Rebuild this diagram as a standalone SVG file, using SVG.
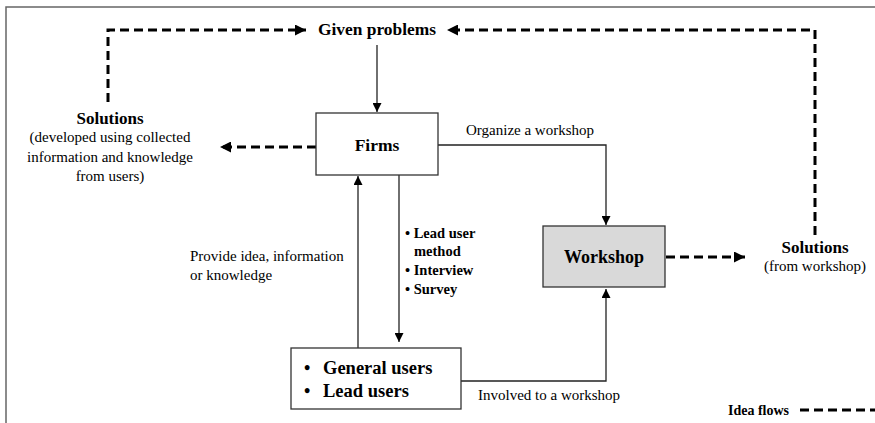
<svg xmlns="http://www.w3.org/2000/svg" width="875" height="423" viewBox="0 0 875 423">
<defs>
<marker id="ah" viewBox="0 0 10 10" refX="10" refY="5" markerWidth="9" markerHeight="9" markerUnits="userSpaceOnUse" orient="auto"><path d="M0,0 L10,5 L0,10 z" fill="#000"/></marker>
<marker id="ahd" viewBox="0 0 10 10" refX="10" refY="5" markerWidth="11" markerHeight="11" markerUnits="userSpaceOnUse" orient="auto"><path d="M0,0 L10,5 L0,10 z" fill="#000"/></marker>
</defs>
<style>
.t{font-family:"Liberation Serif","Times New Roman",serif;fill:#000}
.b{font-weight:bold}
.box{fill:#fff;stroke:#333;stroke-width:1.3}
.ln{fill:none;stroke:#222;stroke-width:1.3}
.dash{fill:none;stroke:#000;stroke-width:3;stroke-dasharray:9,5}
</style>
<rect width="875" height="423" fill="#fff"/>
<path d="M6,423 V7 H875" fill="none" stroke="#666" stroke-width="1.5"/>
<g id="connectors">
<path class="ln" d="M377,45 V112" marker-end="url(#ah)"/>
<path class="ln" d="M438,145 H606 V225" marker-end="url(#ah)"/>
<path class="ln" d="M358,348 V176" marker-end="url(#ah)"/>
<path class="ln" d="M399,175 V342" marker-end="url(#ah)"/>
<path class="ln" d="M461,381 H606 V289" marker-end="url(#ah)"/>
<path class="dash" d="M108,102 V30 H306" marker-end="url(#ahd)"/>
<path class="dash" d="M815,235 V30 H447" marker-end="url(#ahd)"/>
<path class="dash" d="M316,147 H220" marker-end="url(#ahd)"/>
<path class="dash" d="M666,257 H745" marker-end="url(#ahd)"/>
<path class="dash" d="M800,410 H875"/>
</g>
<g id="given"><text class="t b" x="377" y="35" font-size="17" text-anchor="middle" textLength="118" lengthAdjust="spacingAndGlyphs">Given problems</text></g>
<g id="solutions-left">
<text class="t b" x="110" y="124" font-size="17" text-anchor="middle">Solutions</text>
<text class="t" x="110" y="142" font-size="15" text-anchor="middle">(developed using collected</text>
<text class="t" x="110" y="162" font-size="15" text-anchor="middle">information  and knowledge</text>
<text class="t" x="110" y="181" font-size="15" text-anchor="middle">from  users)</text>
</g>
<g id="firms"><rect class="box" x="316" y="113" width="122" height="62"/><text class="t b" x="377" y="151" font-size="17.5" text-anchor="middle">Firms</text></g>
<g id="organize"><text class="t" x="466" y="135" font-size="15">Organize  a workshop</text></g>
<g id="workshop"><rect x="543" y="226" width="122" height="61" fill="#d9d9d9" stroke="#333" stroke-width="1.3"/><text class="t b" x="604" y="263" font-size="18" text-anchor="middle">Workshop</text></g>
<g id="solutions-right">
<text class="t b" x="815" y="253" font-size="17" text-anchor="middle">Solutions</text>
<text class="t" x="815" y="271" font-size="15" text-anchor="middle">(from  workshop)</text>
</g>
<g id="methods">
<text class="t b" x="405" y="238" font-size="14.5">• Lead  user</text>
<text class="t b" x="414" y="256" font-size="14.5">method</text>
<text class="t b" x="405" y="275" font-size="14.5">• Interview</text>
<text class="t b" x="405" y="294" font-size="14.5">• Survey</text>
</g>
<g id="provide">
<text class="t" x="190" y="261" font-size="15">Provide idea, information</text>
<text class="t" x="190" y="280" font-size="15">or knowledge</text>
</g>
<g id="users"><rect class="box" x="291" y="348" width="170" height="61"/>
<text class="t b" x="304" y="374" font-size="18">•</text><text class="t b" x="323" y="374" font-size="18.5">General users</text>
<text class="t b" x="304" y="397" font-size="18">•</text><text class="t b" x="323" y="397" font-size="18.5">Lead users</text>
</g>
<g id="involved"><text class="t" x="478" y="400" font-size="15">Involved to a workshop</text></g>
<g id="legend"><text class="t b" x="728" y="415" font-size="14">Idea  flows</text></g>
</svg>
